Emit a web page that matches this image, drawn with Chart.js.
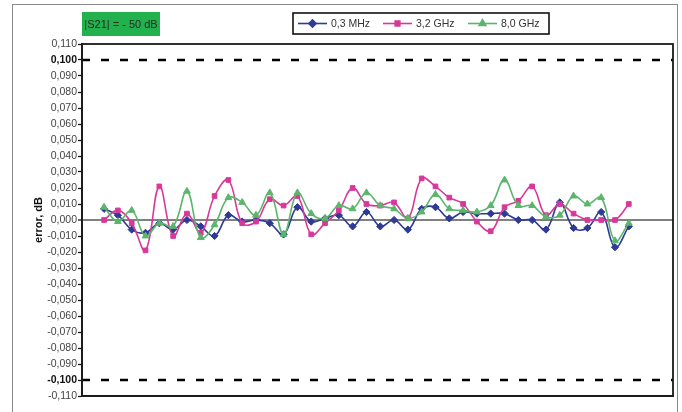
<!DOCTYPE html>
<html><head><meta charset="utf-8">
<script src="https://cdn.jsdelivr.net/npm/chart.js@4.4.1/dist/chart.umd.min.js"></script>
<style>html,body{margin:0;padding:0;background:#fff}#wrap{width:682px;height:412px;position:relative}</style>
</head><body><div id="wrap"><canvas id="c" width="682" height="412"></canvas></div>
<script>
const categories = [1,2,3,4,5,6,7,8,9,10,11,12,13,14,15,16,17,18,19,20,21,22,23,24,25,26,27,28,29,30,31,32,33,34,35,36,37,38,39];
const seriesNames = ['0,3 MHz', '3,2 GHz', '8,0 GHz'];
const mhz03 = [0.007,0.003,-0.006,-0.008,-0.002,-0.006,0.000,-0.004,-0.010,0.003,-0.001,0.000,-0.002,-0.009,0.008,-0.001,0.001,0.003,-0.004,0.005,-0.004,0.000,-0.006,0.007,0.008,0.001,0.005,0.004,0.004,0.004,0.000,0.000,-0.006,0.011,-0.005,-0.005,0.005,-0.017,-0.004];
const ghz32 = [0.000,0.006,-0.002,-0.019,0.021,-0.010,0.004,-0.008,0.015,0.025,-0.002,-0.001,0.013,0.009,0.015,-0.009,-0.002,0.006,0.020,0.010,0.009,0.011,0.001,0.026,0.021,0.014,0.010,-0.001,-0.007,0.008,0.012,0.021,0.003,0.010,0.004,0.000,0.000,0.000,0.010];
const ghz80 = [0.008,-0.001,0.006,-0.010,-0.002,-0.004,0.018,-0.011,-0.003,0.014,0.011,0.003,0.017,-0.009,0.017,0.004,0.001,0.009,0.007,0.017,0.009,0.007,0.001,0.005,0.016,0.007,0.006,0.005,0.009,0.025,0.009,0.009,0.002,0.003,0.015,0.010,0.014,-0.013,-0.002];
const limitUpper = 0.100;
const limitLower = -0.100;
const xMin = -0.6, xMax = 42.2;
const yMin = -0.110, yMax = 0.110, yStep = 0.010;
const titleText = '|S21| = - 50 dB';
const yTitle = 'error, dB';

const colors = ['#2e3a94', '#d8389a', '#5cb56c'];
const shapes = ['rectRot', 'rect', 'triangle'];
const radii = [3.6, 3.3, 3.9];
const FONT = '"Liberation Sans", Arial, sans-serif';

function fmt(v) {
  const r = Math.round(v * 1000) / 1000;
  return r.toFixed(3).replace('.', ',');
}
function tickVal(c) { return (c && c.tick && typeof c.tick.value === 'number') ? c.tick.value : NaN; }
function isLimit(v) { return Math.abs(Math.abs(v) - 0.1) < 1e-6; }
function isZero(v) { return Math.abs(v) < 1e-9; }

const series = [mhz03, ghz32, ghz80];
const datasets = series.map((d, i) => ({
  label: seriesNames[i],
  data: d.map((v, k) => ({x: categories[k], y: v})),
  borderColor: colors[i],
  backgroundColor: colors[i],
  pointBackgroundColor: colors[i],
  pointBorderColor: colors[i],
  pointStyle: shapes[i],
  pointRadius: radii[i],
  pointBorderWidth: 1,
  borderWidth: 1.6,
  tension: 0.4,
  fill: false,
  order: 3 - i
}));
[limitUpper, limitLower].forEach((lv) => {
  datasets.push({
    label: 'limit',
    data: [{x: xMin, y: lv}, {x: xMax, y: lv}],
    borderColor: '#000',
    borderWidth: 2.6,
    borderDash: [8, 11],
    pointRadius: 0,
    tension: 0,
    fill: false,
    order: 10
  });
});

const legendBox = {x: 293, y: 13, w: 256, h: 21};
const legendEntries = [{l0: 298, l1: 327, t: 331}, {l0: 383, l1: 412, t: 416}, {l0: 468, l1: 497, t: 501}];

const decor = {
  id: 'decor',
  beforeDraw(chart) {
    const ctx = chart.ctx;
    ctx.save();
    ctx.fillStyle = '#fff';
    ctx.fillRect(0, 0, chart.width, chart.height);
    ctx.strokeStyle = '#8a8a8a';
    ctx.lineWidth = 1;
    ctx.strokeRect(12.5, 4.5, 665, 420);
    ctx.restore();
  },
  afterDraw(chart) {
    const ctx = chart.ctx;
    const a = chart.chartArea;
    ctx.save();
    ctx.strokeStyle = '#1a1a1a';
    ctx.lineWidth = 1.8;
    ctx.strokeRect(a.left, a.top, a.right - a.left, a.bottom - a.top);
    ctx.fillStyle = '#22b14c';
    ctx.fillRect(82, 12, 78, 24);
    ctx.fillStyle = '#2a2a2a';
    ctx.font = '11px ' + FONT;
    ctx.textBaseline = 'middle';
    ctx.textAlign = 'center';
    ctx.fillText(titleText, 121, 24.5);
    ctx.fillStyle = '#fff';
    ctx.fillRect(legendBox.x, legendBox.y, legendBox.w, legendBox.h);
    ctx.strokeStyle = '#111';
    ctx.lineWidth = 1.6;
    ctx.strokeRect(legendBox.x, legendBox.y, legendBox.w, legendBox.h);
    ctx.font = '10.5px ' + FONT;
    ctx.textAlign = 'left';
    const y = legendBox.y + legendBox.h / 2;
    legendEntries.forEach((e, i) => {
      ctx.strokeStyle = colors[i];
      ctx.lineWidth = 1.6;
      ctx.setLineDash([]);
      ctx.beginPath(); ctx.moveTo(e.l0, y); ctx.lineTo(e.l1, y); ctx.stroke();
      ctx.fillStyle = colors[i];
      Chart.helpers.drawPoint(ctx, {pointStyle: shapes[i], radius: radii[i], borderWidth: 1, rotation: 0}, (e.l0 + e.l1) / 2, y);
      ctx.fillStyle = '#333';
      ctx.fillText(seriesNames[i], e.t, y + 0.5);
    });
    ctx.restore();
  }
};

new Chart(document.getElementById('c'), {
  type: 'line',
  data: { datasets },
  options: {
    responsive: false,
    animation: false,
    devicePixelRatio: 1,
    layout: { padding: { left: 0, top: 44, right: 9, bottom: 8 } },
    plugins: { legend: { display: false }, tooltip: { enabled: false }, title: { display: false } },
    scales: {
      x: {
        type: 'linear',
        min: xMin, max: xMax,
        ticks: { display: false },
        grid: { display: false },
        border: { display: true, color: '#1a1a1a', width: 1.8 }
      },
      y: {
        min: yMin, max: yMax,
        afterFit(scale) { scale.width = 82; },
        ticks: {
          stepSize: yStep,
          padding: 1,
          autoSkip: false,
          callback: (v) => fmt(v),
          color: (c) => isLimit(tickVal(c)) ? '#111' : '#444',
          font: (c) => ({ family: FONT, size: 10.5, weight: isLimit(tickVal(c)) ? 'bold' : 'normal' })
        },
        grid: {
          drawOnChartArea: true,
          color: (c) => isZero(tickVal(c)) ? '#808080' : 'rgba(0,0,0,0)',
          lineWidth: (c) => isZero(tickVal(c)) ? 2 : 1,
          tickColor: '#1a1a1a',
          tickLength: 4,
          tickWidth: 1.3
        },
        border: { display: true, color: '#1a1a1a', width: 1.8 },
        title: {
          display: true, text: yTitle, color: '#111',
          font: { family: FONT, size: 11, weight: 'bold' },
          padding: { top: 32, bottom: 0 }
        }
      }
    }
  },
  plugins: [decor]
});
</script></body></html>
